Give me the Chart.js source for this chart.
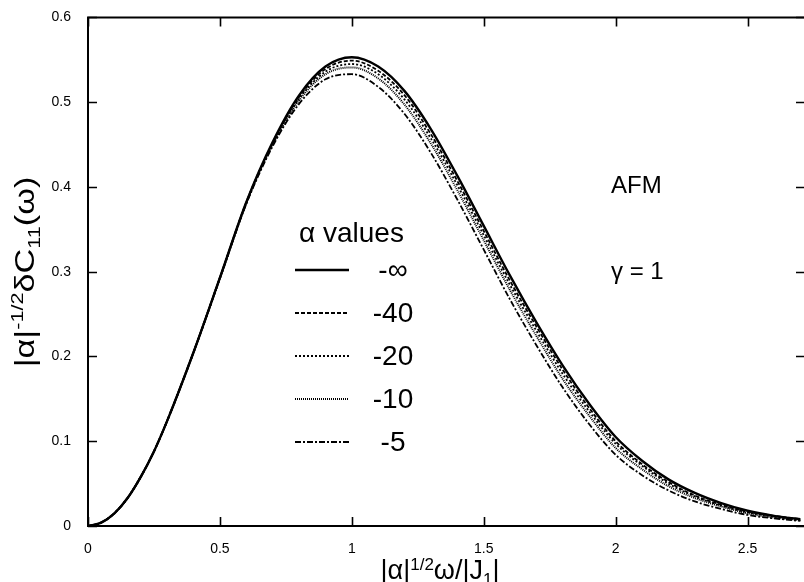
<!DOCTYPE html>
<html>
<head>
<meta charset="utf-8">
<script src="https://cdn.jsdelivr.net/npm/chart.js@4.4.1/dist/chart.umd.min.js"></script>
<style>
  html, body { margin: 0; padding: 0; background: #fff; }
  #wrap { width: 804px; height: 582px; }
</style>
</head>
<body>
<div id="wrap"><canvas id="chart" width="804" height="582"></canvas></div>
<script>
// x values (|alpha|^1/2 omega / |J1|)
const xVals = [0, 0.05, 0.1, 0.15, 0.2, 0.25, 0.3, 0.4, 0.5, 0.6, 0.7, 0.8, 0.9, 1.0, 1.1, 1.2, 1.3,
               1.4, 1.5, 1.6, 1.7, 1.8, 1.9, 2.0, 2.1, 2.2, 2.3, 2.4, 2.5, 2.6, 2.7];

// one curve per alpha value
const alphaLabels = ['-\u221E', '-40', '-20', '-10', '-5'];
const curveInf = [0, 0.004, 0.015, 0.033, 0.058, 0.088, 0.124, 0.205, 0.293, 0.382, 0.453, 0.508, 0.542, 0.553, 0.542, 0.513, 0.468,
                  0.413, 0.354, 0.295, 0.240, 0.189, 0.144, 0.105, 0.077, 0.055, 0.039, 0.027, 0.018, 0.012, 0.008];
const curve40  = [0, 0.004, 0.015, 0.033, 0.058, 0.088, 0.124, 0.205, 0.293, 0.382, 0.452, 0.506, 0.539, 0.549, 0.537, 0.508, 0.462,
                  0.407, 0.348, 0.289, 0.235, 0.184, 0.139, 0.100, 0.073, 0.052, 0.036, 0.025, 0.017, 0.012, 0.008];
const curve20  = [0, 0.004, 0.015, 0.033, 0.058, 0.088, 0.124, 0.205, 0.293, 0.381, 0.451, 0.504, 0.536, 0.545, 0.533, 0.503, 0.457,
                  0.402, 0.343, 0.284, 0.230, 0.179, 0.135, 0.097, 0.071, 0.050, 0.035, 0.024, 0.016, 0.011, 0.007];
const curve10  = [0, 0.004, 0.015, 0.033, 0.058, 0.088, 0.124, 0.205, 0.292, 0.381, 0.450, 0.502, 0.533, 0.541, 0.528, 0.497, 0.451,
                  0.396, 0.337, 0.278, 0.224, 0.173, 0.130, 0.092, 0.067, 0.047, 0.033, 0.023, 0.015, 0.010, 0.007];
const curve5   = [0, 0.004, 0.015, 0.033, 0.058, 0.088, 0.124, 0.205, 0.292, 0.380, 0.448, 0.498, 0.527, 0.533, 0.518, 0.486, 0.440,
                  0.385, 0.326, 0.267, 0.213, 0.163, 0.120, 0.084, 0.060, 0.042, 0.029, 0.020, 0.013, 0.009, 0.006];

const xTicks = [0, 0.5, 1, 1.5, 2, 2.5];
const yTicks = [0, 0.1, 0.2, 0.3, 0.4, 0.5, 0.6];

const FONT = "'Liberation Sans', Arial, Helvetica, sans-serif";

function pts(ys) {
  return xVals.map((x, i) => ({ x: x, y: ys[i] }));
}

const styles = [
  { w: 2.4, dash: [] },
  { w: 1.8, dash: [4, 2] },
  { w: 1.8, dash: [2, 2] },
  { w: 2.0, dash: [1, 1] },
  { w: 1.8, dash: [6, 2, 2, 2] }
];
const curves = [curveInf, curve40, curve20, curve10, curve5];

const datasets = curves.map((c, i) => ({
  label: alphaLabels[i],
  data: pts(c),
  borderColor: '#000',
  borderWidth: styles[i].w,
  borderDash: styles[i].dash,
  pointRadius: 0,
  fill: false,
  cubicInterpolationMode: 'monotone'
}));

// draws text made of normal / superscript / subscript pieces, centred on (0,0)
function richText(ctx, parts, size, raise) {
  const small = Math.round(size * 0.64);
  let total = 0;
  parts.forEach(p => {
    ctx.font = (p.s ? small : size) + 'px ' + FONT;
    p.w = ctx.measureText(p.t).width;
    total += p.w;
  });
  let x = -total / 2;
  parts.forEach(p => {
    ctx.font = (p.s ? small : size) + 'px ' + FONT;
    const dy = p.s === 1 ? -size * raise : (p.s === -1 ? size * 0.22 : 0);
    ctx.fillText(p.t, x, dy);
    x += p.w;
  });
}

const decor = {
  id: 'decor',
  afterDraw(chart) {
    const { ctx, chartArea: a, scales } = chart;
    const sx = scales.x, sy = scales.y;
    ctx.save();
    ctx.strokeStyle = '#000';
    ctx.fillStyle = '#000';
    ctx.setLineDash([]);

    // frame (right edge is cut off in the original)
    ctx.lineWidth = 2;
    ctx.beginPath();
    ctx.moveTo(a.right + 2, a.top);
    ctx.lineTo(a.left, a.top);
    ctx.lineTo(a.left, a.bottom);
    ctx.lineTo(a.right + 2, a.bottom);
    ctx.stroke();

    // inward ticks, mirrored
    ctx.lineWidth = 1.6;
    ctx.beginPath();
    yTicks.forEach(v => {
      const py = Math.round(sy.getPixelForValue(v)) + 0.5;
      ctx.moveTo(a.left, py); ctx.lineTo(a.left + 9, py);
      ctx.moveTo(a.right + 2, py); ctx.lineTo(a.right - 7, py);
    });
    xTicks.forEach(v => {
      const px = Math.round(sx.getPixelForValue(v)) + 0.5;
      ctx.moveTo(px, a.bottom); ctx.lineTo(px, a.bottom - 9);
      ctx.moveTo(px, a.top); ctx.lineTo(px, a.top + 9);
    });
    ctx.stroke();

    // axis titles
    ctx.textAlign = 'left';
    ctx.textBaseline = 'alphabetic';
    ctx.save();
    ctx.translate(440, 579);
    richText(ctx, [
      { t: '|\u03B1|' }, { t: '1/2', s: 1 }, { t: '\u03C9/|J' }, { t: '1', s: -1 }, { t: '|' }
    ], 27, 0.34);
    ctx.restore();

    ctx.save();
    ctx.translate(34, 272);
    ctx.rotate(-Math.PI / 2);
    ctx.scale(1.27, 1);
    richText(ctx, [
      { t: '|\u03B1|' }, { t: '-1/2', s: 1 }, { t: '\u03B4C' }, { t: '11', s: -1 }, { t: '(\u03C9)' }
    ], 27, 0.42);
    ctx.restore();

    // legend inside the plot
    ctx.font = '28px ' + FONT;
    ctx.textAlign = 'left';
    ctx.fillText('\u03B1 values', 299, 242);
    chart.data.datasets.forEach((ds, i) => {
      const ly = 270 + i * 43;
      ctx.lineWidth = ds.borderWidth;
      ctx.setLineDash(ds.borderDash);
      ctx.beginPath();
      ctx.moveTo(295, ly); ctx.lineTo(349, ly);
      ctx.stroke();
      ctx.setLineDash([]);
      ctx.font = '28px ' + FONT;
      ctx.textAlign = 'center';
      ctx.textBaseline = 'middle';
      ctx.fillText(ds.label, 393, ly + 1);
    });

    // annotations
    ctx.textAlign = 'left';
    ctx.textBaseline = 'alphabetic';
    ctx.font = '24px ' + FONT;
    ctx.fillText('AFM', 611, 193);
    ctx.fillText('\u03B3 = 1', 611, 279);
    ctx.restore();
  }
};

const fmt = v => String(+Number(v).toFixed(2));

new Chart(document.getElementById('chart').getContext('2d'), {
  type: 'line',
  data: { datasets: datasets },
  options: {
    responsive: false,
    animation: false,
    layout: { padding: { top: 13, right: 1, left: 0, bottom: 0 } },
    plugins: { legend: { display: false }, tooltip: { enabled: false } },
    scales: {
      x: {
        type: 'linear',
        min: 0,
        max: 2.71,
        grid: { display: false },
        border: { display: false },
        ticks: {
          stepSize: 0.5,
          includeBounds: false,
          maxRotation: 0,
          padding: 7,
          color: '#000',
          font: { family: FONT, size: 14 },
          callback: fmt
        },
        afterFit(s) { s.height = 56; }
      },
      y: {
        min: 0,
        max: 0.6,
        grid: { display: false },
        border: { display: false },
        ticks: {
          stepSize: 0.1,
          padding: 9,
          color: '#000',
          font: { family: FONT, size: 14 },
          callback: fmt
        },
        afterFit(s) { s.width = 88; }
      }
    }
  },
  plugins: [decor]
});
</script>
</body>
</html>
